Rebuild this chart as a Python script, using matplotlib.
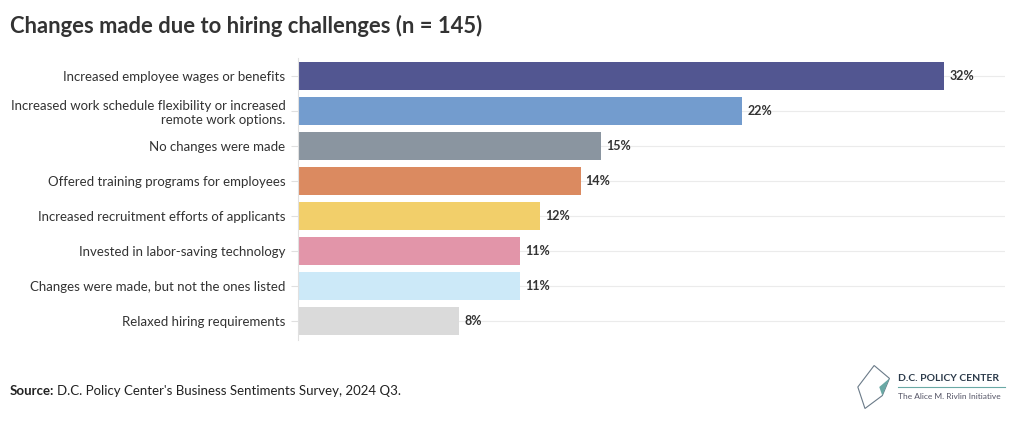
import matplotlib
matplotlib.use("Agg")
import matplotlib.pyplot as plt
from matplotlib.patches import Polygon

plt.rcParams['font.family'] = ['Lato', 'DejaVu Sans']

categories = ["Increased employee wages or benefits",
              "Increased work schedule flexibility or increased\nremote work options.",
              "No changes were made",
              "Offered training programs for employees",
              "Increased recruitment efforts of applicants",
              "Invested in labor-saving technology",
              "Changes were made, but not the ones listed",
              "Relaxed hiring requirements"]
values = [32, 22, 15, 14, 12, 11, 11, 8]
colors = ["#525691", "#739cce", "#8a95a0", "#db8a60", "#f2cf6a", "#e295a9", "#cce9f8", "#dadada"]

fig = plt.figure(figsize=(10.2, 4.3), dpi=100)
ax = fig.add_axes([0.292, 0.209, 0.693, 0.656])

y = list(range(len(categories)))
for i in y:
    ax.axhline(i, color="#ebebeb", lw=0.8, zorder=0)
ax.barh(y, values, height=0.8, color=colors, zorder=2)
for i, v in zip(y, values):
    ax.text(v + 0.25, i, f"{v}%", va="center", ha="left", fontsize=9,
            fontweight="bold", color="#333333")

ax.set_xlim(0, 35)
ax.set_ylim(7.54, -0.52)
ax.set_yticks(y)
ax.set_yticklabels(categories, fontsize=9.5, color="#333333", linespacing=1.2)
ax.tick_params(axis="y", length=5, color="#e0e0e0", pad=4)
ax.set_xticks([])
for s in ["top", "right", "bottom"]:
    ax.spines[s].set_visible(False)
ax.spines["left"].set_color("#e0e0e0")
ax.spines["left"].set_linewidth(0.8)

fig.text(0.0098, 0.94, "Changes made due to hiring challenges (n = 145)", fontsize=15.8,
         fontweight="bold", color="#333333", va="center")
fig.text(0.0098, 0.09, "Source:", fontsize=9.5, fontweight="bold", color="#222222", va="center")
fig.text(0.056, 0.09, "D.C. Policy Center's Business Sentiments Survey, 2024 Q3.", fontsize=9.5,
         color="#222222", va="center")

# logo
fig.text(0.88, 0.12, "D.C. POLICY CENTER", fontsize=7.5, fontweight="bold", color="#2b3a4a", va="center")
fig.add_artist(plt.Line2D([0.88, 0.985], [0.1, 0.1], color="#6aa9a5", lw=0.8))
fig.text(0.88, 0.077, "The Alice M. Rivlin Initiative", fontsize=6, color="#556", va="center")
fig.add_artist(Polygon([[0.841, 0.1], [0.857, 0.15], [0.872, 0.12], [0.865, 0.08], [0.848, 0.05]],
                       closed=True, fill=False, ec="#6a7a88", lw=0.8))
fig.add_artist(Polygon([[0.862, 0.1], [0.872, 0.12], [0.865, 0.08]],
                       closed=True, fc="#6aa9a5", ec="none"))

fig.savefig("out.png", dpi=100, facecolor="white")
